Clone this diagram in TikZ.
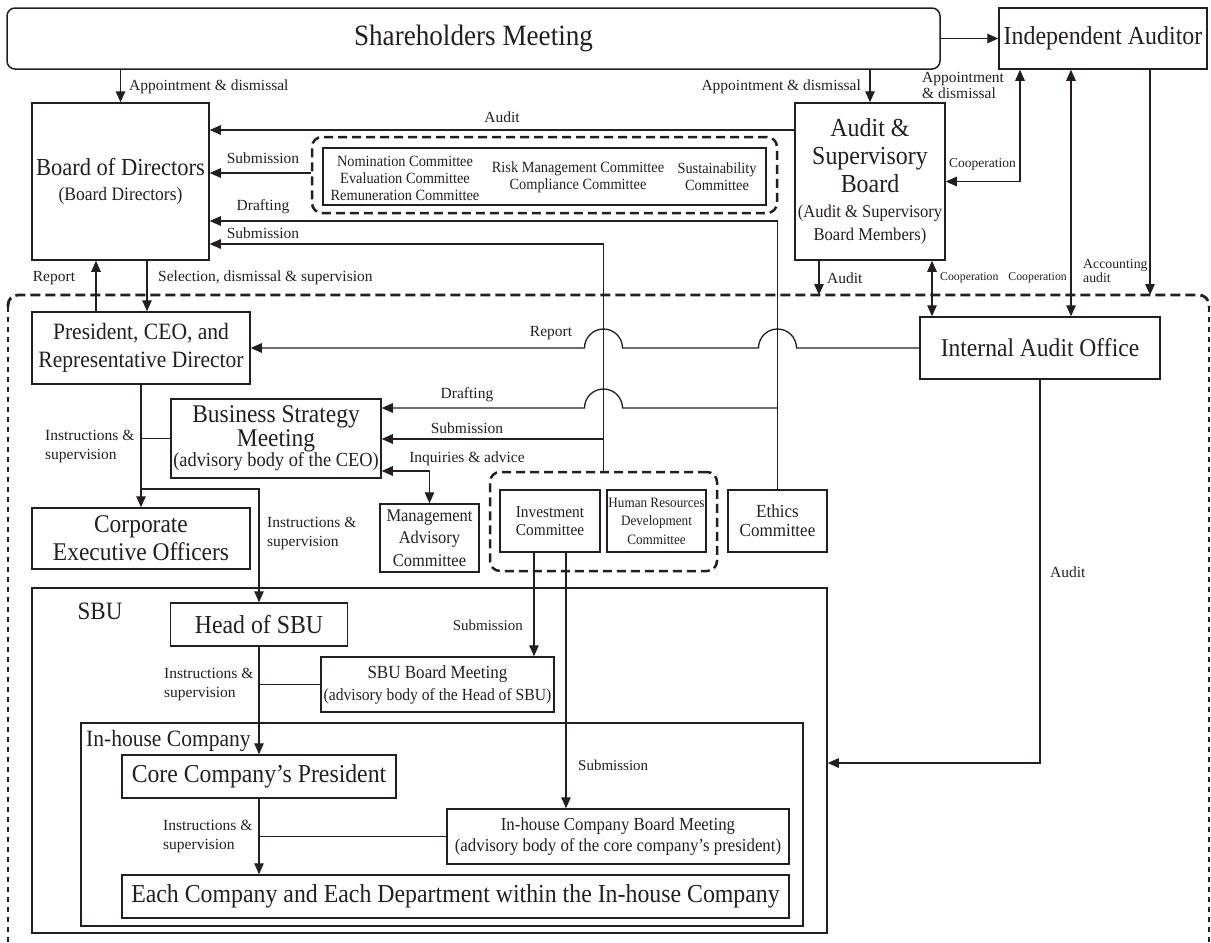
\documentclass[tikz,border=0pt]{standalone}
\usepackage{fontspec}
\setmainfont{Liberation Serif}
\newfontfamily\nf[FakeStretch=0.92]{Liberation Serif}
\usetikzlibrary{arrows.meta}
\definecolor{ink}{RGB}{35,31,32}
\newcommand{\myfs}[2]{\fontsize{#1}{#2}\selectfont}
\begin{document}
\begin{tikzpicture}[x=1pt,y=-1pt,
  box/.style={draw=ink, line width=1.5pt, inner sep=0pt, align=center, text=ink},
  sz/.style 2 args={minimum width=#1pt, minimum height=#2pt},
  lbl/.style={inner sep=0pt, text=ink, font=\myfs{15.5}{17}},
  conn/.style={draw=ink, line width=1.3pt},
  arr/.style={-{Triangle[length=11pt,width=9.5pt]}},
  arrs/.style={{Triangle[length=11pt,width=9.5pt]}-{Triangle[length=11pt,width=9.5pt]}},
  grp/.style={draw=ink, line width=2.5pt, dash pattern=on 9pt off 5pt, rounded corners=10pt, inner sep=0pt}
]
\useasboundingbox (0,0) rectangle (1211,943);

% outer dashed frame
\draw[ink, line width=2.8pt, dash pattern=on 10pt off 5pt, rounded corners=10pt] (8,307) -- (8,295) -- (1209,295) -- (1209,307);
\draw[ink, line width=2.8pt, dash pattern=on 5pt off 5pt] (8,307) -- (8,943);
\draw[ink, line width=2.8pt, dash pattern=on 5pt off 5pt] (1209,307) -- (1209,943);
\coordinate (ftA) at (819,295);
\coordinate (ftB) at (1150,295);

% nodes
\node[box, sz={933}{61}, rounded corners=8pt, font=\nf\myfs{29.5}{30}] (sh) at (473.5,38.5) {Shareholders Meeting};
\node[box, sz={208}{61}, font=\nf\myfs{26}{28}] (ia) at (1103,38.5) {Independent Auditor};
\node[box, sz={177}{157}, font=\nf\myfs{24.5}{25.5}] (bod) at (120.5,181.5) {Board of Directors\\{\myfs{19}{20}(Board Directors)}};
\node[box, sz={150}{157}, font=\nf\myfs{26}{29}] (asb) at (870,181.5) {Audit \&\\[-1pt]Supervisory\\[-1pt]Board\\[-4pt]{\myfs{18}{19}(Audit \& Supervisory}\\[-6pt]{\myfs{18}{19}Board Members)}};

\node[grp, sz={465}{76}] (commg) at (544.5,175) {};
\node[box, sz={443}{57}] (comm) at (544.5,176.5) {};
\node[inner sep=0pt, align=center, text=ink, font=\nf\myfs{15.6}{17}] (nom) at (405,178) {Nomination Committee\\Evaluation Committee\\Remuneration Committee};
\node[inner sep=0pt, align=center, text=ink, font=\nf\myfs{15.6}{17}] (risk) at (578,177.5) {Risk Management Committee\\Compliance Committee};
\node[inner sep=0pt, align=center, text=ink, font=\nf\myfs{15.6}{17}] (sus) at (717,176.5) {Sustainability\\Committee};

\node[box, sz={240}{62}, font=\nf\myfs{25.6}{28}] (iao) at (1040,348) {Internal Audit Office};
\node[box, sz={218}{72}, font=\nf\myfs{23.4}{28}] (pres) at (141,348) {President, CEO, and\\Representative Director};
\node[box, sz={210}{79}, font=\nf\myfs{25.5}{24}] (bsm) at (276,438.5) {Business Strategy\\Meeting\\[-4pt]{\myfs{20}{20}(advisory body of the CEO)}};
\node[box, sz={218}{61}, font=\nf\myfs{25.5}{28}] (ceo) at (141,538.5) {Corporate\\Executive Officers};
\node[box, sz={99}{68}, font=\nf\myfs{17.9}{22.5}] (mac) at (429.5,538) {Management\\Advisory\\Committee};
\node[grp, sz={227}{99}] (invg) at (603.5,521.5) {};
\node[box, sz={100}{62}, font=\nf\myfs{16.7}{18}] (inv) at (550,521) {Investment\\Committee};
\node[box, sz={99}{62}, font=\nf\myfs{14.3}{18.5}] (hr) at (656.5,521) {Human Resources\\Development\\Committee};
\node[box, sz={99}{62}, font=\nf\myfs{18.5}{19}] (eth) at (777.5,521) {Ethics\\Committee};

\node[box, sz={795}{345}] (sbu) at (429.5,760.5) {};
\node[inner sep=0pt, text=ink, font=\nf\myfs{25}{26}] (sbul) at (100,611) {SBU};
\node[box, sz={177}{43}, font=\nf\myfs{25.9}{26}] (hsbu) at (259,624.5) {Head of SBU};
\node[box, sz={233}{55}, font=\nf\myfs{18.5}{22}] (sbm) at (437.5,684.5) {SBU Board Meeting\\{\myfs{17}{18}(advisory body of the Head of SBU)}};
\node[box, sz={722}{203}] (ihc) at (442,824.5) {};
\node[inner sep=0pt, text=ink, anchor=west, font=\nf\myfs{23.4}{24}] (ihcl) at (86,741) {In-house Company};
\node[box, sz={274}{43}, font=\nf\myfs{25.8}{26}] (ccp) at (259,776.5) {Core Company’s President};
\node[box, sz={342}{55}, font=\nf\myfs{18.3}{21.5}] (ihbm) at (618,836.5) {In-house Company Board Meeting\\(advisory body of the core company’s president)};
\node[box, sz={667}{43}, font=\nf\myfs{25.9}{26}] (each) at (455.5,896.5) {Each Company and Each Department within the In-house Company};

% helper coordinates
\coordinate (yAud) at (0,130);
\coordinate (ySub1) at (0,173);
\coordinate (yDr1) at (0,221);
\coordinate (ySub2) at (0,244);
\coordinate (yDr2) at (0,408);
\coordinate (ySub3) at (0,439);
\coordinate (yInq) at (0,471);
\coordinate (yIS) at (0,489);
\coordinate (yIAO) at (0,763);
\coordinate (xRep) at (96,0);
\coordinate (xSel) at (147,0);
\coordinate (xIA1) at (1020,0);
\coordinate (xIA2) at (1071,0);
\coordinate (xIA3) at (1150,0);
\coordinate (xAud) at (819,0);
\coordinate (xCoop) at (932,0);
\coordinate (xInv1) at (534,0);
\coordinate (xInv2) at (566,0);

% connectors
\draw[conn,arr] (sh.east) -- (ia.west);
\draw[conn,arr] (bod.north |- sh.south) -- (bod.north);
\draw[conn,arr] (asb.north |- sh.south) -- (asb.north);
\draw[conn,arrs] (asb.east) -| (xIA1 |- ia.south);
\draw[conn,arrs] (xIA2 |- ia.south) -- (xIA2 |- iao.north);
\draw[conn,arr] (xIA3 |- ia.south) -- (ftB);
\draw[conn,arr] (xAud |- asb.south) -- (ftA);
\draw[conn,arrs] (xCoop |- asb.south) -- (xCoop |- iao.north);
\draw[conn,arr] (asb.west |- yAud) -- (bod.east |- yAud);
\draw[conn,arr] (commg.west |- ySub1) -- (bod.east |- ySub1);
\draw[conn,arr] (eth.north) |- (bod.east |- yDr1);
\draw[conn,arr] (invg.north) |- (bod.east |- ySub2);
\draw[conn,arr] (xRep |- pres.north) -- (xRep |- bod.south);
\draw[conn,arr] (xSel |- bod.south) -- (xSel |- pres.north);
\draw[conn,arr] (iao.west) -- (796.5,348) .. controls (796.5,337.5) and (788,329) .. (777.5,329) .. controls (767,329) and (758.5,337.5) .. (758.5,348) -- (622.5,348) .. controls (622.5,337.5) and (614,329) .. (603.5,329) .. controls (593,329) and (584.5,337.5) .. (584.5,348) -- (pres.east);
\draw[conn,arr] (eth.north |- yDr2) -- (622.5,408) .. controls (622.5,397.5) and (614,389) .. (603.5,389) .. controls (593,389) and (584.5,397.5) .. (584.5,408) -- (bsm.east |- yDr2);
\draw[conn,arr] (invg.north |- ySub3) -- (bsm.east |- ySub3);
\draw[conn,arrs] (bsm.east |- yInq) -| (mac.north);
\draw[conn,arr] (pres.south) -- (ceo.north);
\draw[conn] (bsm.west) -- (pres.south |- bsm.west);
\draw[conn,arr] (pres.south |- yIS) -| (hsbu.north);
\draw[conn,arr] (xInv1 |- inv.south) -- (xInv1 |- sbm.north);
\draw[conn,arr] (xInv2 |- inv.south) -- (xInv2 |- ihbm.north);
\draw[conn,arr] (hsbu.south) -- (ccp.north);
\draw[conn] (sbm.west) -- (hsbu.south |- sbm.west);
\draw[conn,arr] (ccp.south) -- (ccp.south |- each.north);
\draw[conn] (ihbm.west) -- (ccp.south |- ihbm.west);
\draw[conn,arr] (iao.south) |- (sbu.east |- yIAO);

% labels
\node[lbl, anchor=west] (lAD1) at (129,87) {Appointment \& dismissal};
\node[lbl, anchor=east] (lAD2) at (861,87) {Appointment \& dismissal};
\node[lbl, anchor=west, align=left, font=\myfs{15.5}{16.5}] (lAD3) at (922,85.5) {Appointment\\\& dismissal};
\node[lbl, anchor=west, font=\myfs{13.5}{15}] (lCoop1) at (949,164) {Cooperation};
\node[lbl] (lAudit1) at (502,117) {Audit};
\node[lbl] (lSub1) at (263,158) {Submission};
\node[lbl] (lDraft1) at (263,207) {Drafting};
\node[lbl] (lSub2) at (263,233) {Submission};
\node[lbl] (lRep1) at (54,278) {Report};
\node[lbl, anchor=west] (lSel) at (158,278) {Selection, dismissal \& supervision};
\node[lbl, anchor=west] (lAudit3) at (827,278) {Audit};
\node[lbl, anchor=west, font=\myfs{11.8}{14}] (lCoop2) at (940,278) {Cooperation};
\node[lbl, anchor=east, font=\myfs{11.8}{14}] (lCoop3) at (1067,278) {Cooperation};
\node[lbl, anchor=west, align=left, font=\myfs{13.8}{14.5}] (lAcc) at (1083,271) {Accounting\\audit};
\node[lbl] (lRep2) at (551,333) {Report};
\node[lbl] (lDraft2) at (467,395) {Drafting};
\node[lbl] (lSub3) at (467,428) {Submission};
\node[lbl] (lInq) at (467,459) {Inquiries \& advice};
\node[lbl, anchor=west, align=left, font=\myfs{15.5}{19}] (lIS1) at (45,446) {Instructions \&\\supervision};
\node[lbl, anchor=west, align=left, font=\myfs{15.5}{19}] (lIS2) at (267,533) {Instructions \&\\supervision};
\node[lbl, anchor=west, align=left, font=\myfs{15.5}{19}] (lIS3) at (164,684) {Instructions \&\\supervision};
\node[lbl, anchor=west, align=left, font=\myfs{15.5}{19}] (lIS4) at (163,836) {Instructions \&\\supervision};
\node[lbl, anchor=east, font=\myfs{15}{17}] (lSub4) at (523,625) {Submission};
\node[lbl, anchor=west, font=\myfs{15}{17}] (lSub5) at (578,765) {Submission};
\node[lbl, anchor=west] (lAudit2) at (1050,572) {Audit};
\end{tikzpicture}
\end{document}
